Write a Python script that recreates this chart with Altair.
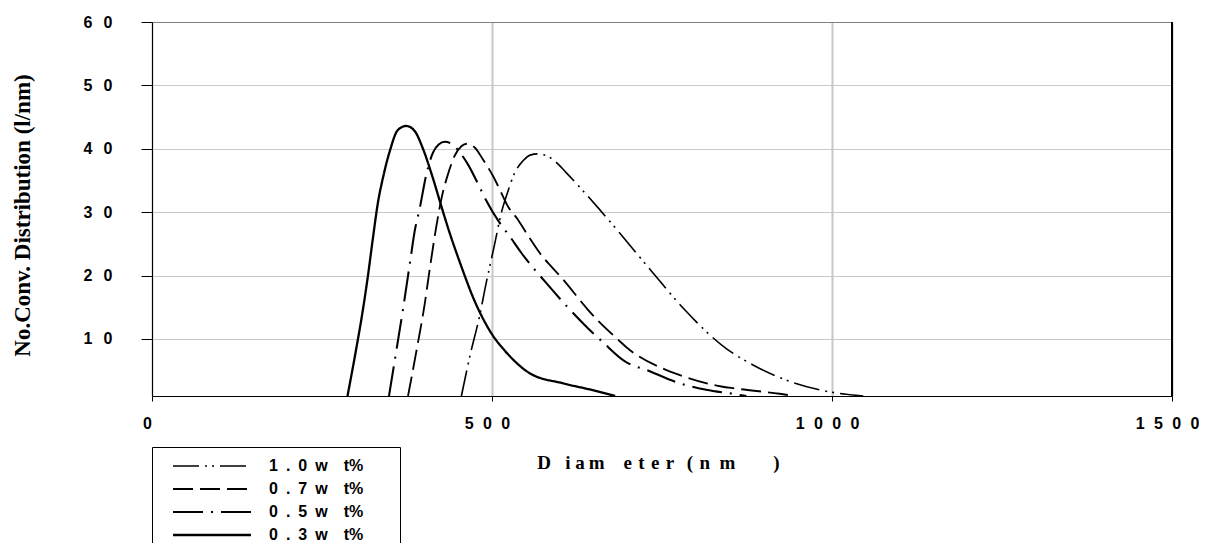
import altair as alt
import pandas as pd

# ---- data ----
series_names = ["1.0 wt%", "0.7 wt%", "0.5 wt%", "0.3 wt%"]
legend_labels = [
    "1\u2002.\u20020\u2002w\u2002\u2002t%",
    "0\u2002.\u20027\u2002w\u2002\u2002t%",
    "0\u2002.\u20025\u2002w\u2002\u2002t%",
    "0\u2002.\u20023\u2002w\u2002\u2002t%",
]

d_10 = [455, 469, 480.5, 491.8, 503, 514, 523.5, 533.4, 545.6, 556, 567.6,
        589.8, 609.4, 629.3, 658.4, 687.8, 736.8, 783.4, 843, 883.8, 937.8, 984.4, 1046]
v_10 = [1.0, 8.0, 13.0, 19.0, 24.5, 30.0, 33.3, 36.2, 38.1, 39.0, 39.2,
        38.3, 36.2, 33.9, 30.4, 26.7, 20.4, 14.6, 8.6, 5.9, 3.3, 1.9, 1.0]

d_07 = [376.5, 388.7, 401, 408.4, 418.2, 426, 435.3, 445.1, 455, 463.2, 474.6, 486.8,
        501.5, 511.3, 523.5, 538.2, 550.6, 570, 604.4, 641.2, 658.4, 685.3, 697.6,
        754, 773.5, 837.4, 857, 923, 945]
v_07 = [1.0, 8.0, 15.5, 21.0, 27.8, 32.3, 36.0, 38.9, 40.4, 40.8, 40.2, 38.3,
        35.7, 33.6, 30.9, 28.8, 26.7, 23.6, 19.4, 14.6, 12.6, 9.9, 8.7,
        5.2, 4.4, 2.5, 2.2, 1.35, 1.0]

d_05 = [348.5, 360, 370, 380, 386.3, 393.7, 403.5, 413.2, 422, 430.4, 445, 455,
        464.8, 482, 490.7, 511.3, 526, 543, 580, 641, 663, 695, 732, 773.5, 815,
        857, 874]
v_05 = [1.0, 8.6, 15.3, 22.5, 27.0, 30.6, 36.0, 39.4, 40.7, 41.1, 40.4, 39.1,
        37.5, 33.9, 32.0, 28.3, 26.2, 23.6, 18.8, 11.7, 9.5, 6.5, 4.9, 3.1, 2.0,
        1.3, 1.0]

d_03 = [287.5, 299.6, 309.4, 317.6, 325, 332.4, 340, 349.6, 361.8, 374, 386.3,
        398.5, 413, 425.6, 437.8, 450, 457.4, 472, 486.8, 501.5, 516, 526, 555.4,
        604.4, 645, 681]
v_03 = [1.0, 8.0, 14.1, 20.0, 26.0, 31.6, 35.6, 39.6, 43.0, 43.6, 42.8,
        40.0, 35.4, 30.9, 26.7, 22.9, 20.7, 16.6, 13.2, 10.5, 8.5, 7.3, 4.6,
        3.0, 2.0, 1.0]

x_ticks = [0, 500, 1000, 1500]
x_tick_labels = ["0", "5 0 0", "1 0 0 0", "1 5 0 0"]
y_ticks = [10, 20, 30, 40, 50, 60]
y_tick_labels = ["1 0", "2 0", "3 0", "4 0", "5 0", "6 0"]

x_title = ("D\u2002\u00a0i\u00a0a\u2009m\u2003e\u2004t\u2004e\u2004r"
           "\u2004\u2004(\u2004n\u2002m\u2003\u2003)")
y_title = "No.Conv. Distribution (l/nm)"

# ---- styles ----
dash_styles = [[26, 6, 2, 5, 2, 6], [20, 7], [30, 8, 2, 8], [1, 0]]
line_widths = [1.6, 2.3, 2.3, 2.5]

rows = []
for lab, xs, ys in zip(legend_labels, [d_10, d_07, d_05, d_03], [v_10, v_07, v_05, v_03]):
    for i, (xv, yv) in enumerate(zip(xs, ys)):
        rows.append({"series": lab, "d": xv, "v": yv, "order": i})
df = pd.DataFrame(rows)


def label_expr(values, labels, sep):
    expr = "''"
    for val, lab in reversed(list(zip(values, labels))):
        expr = f"datum.value == {val} ? '{lab.replace(' ', sep)}' : ({expr})"
    return expr


SEP_X = "\u2002\u200a"
SEP_Y = "\u2002\u2009"

x_axis = alt.Axis(
    values=x_ticks,
    labelExpr=label_expr(x_ticks, x_tick_labels, SEP_X),
    labelFont="Liberation Sans", labelFontWeight="bold", labelFontSize=16,
    labelColor="black", labelPadding=14, labelOffset=-5, labelFlush=False,
    tickSize=5, tickColor="black",
    domainColor="black", grid=True, gridColor="#c8c8c8", gridWidth=2,
    title=x_title, titleFont="Liberation Serif", titleFontSize=19,
    titleFontWeight="bold", titleColor="black", titleX=506, titleY=66,
    titleBaseline="middle", titleAlign="center",
)

y_axis = alt.Axis(
    values=y_ticks,
    labelExpr=label_expr(y_ticks, y_tick_labels, SEP_Y),
    labelFont="Liberation Sans", labelFontWeight="bold", labelFontSize=16,
    labelColor="black", labelPadding=29, tickSize=11, tickColor="black",
    domainColor="black", grid=True,
    gridColor={"condition": {"test": "datum.value == 60", "value": "#808080"}, "value": "#c8c8c8"},
    gridWidth=1,
    title=y_title, titleFont="Liberation Serif", titleFontSize=23,
    titleFontWeight="bold", titleColor="black", titleX=-130, titleY=193,
    titleAngle=270, titleBaseline="middle", titleAlign="center",
)

# the legend title is only a white spacer that widens the legend frame
legend = alt.Legend(
    orient="none", legendX=0, legendY=425,
    title=".", titleOrient="right", titleFontSize=16, titlePadding=24,
    titleColor="white", titleFont="Liberation Sans",
    symbolType="M-4,0H4", symbolSize=380, symbolStrokeWidth=2,
    symbolStrokeColor="black", symbolFillColor="transparent", symbolOffset=41,
    labelFont="Liberation Sans", labelFontWeight="bold", labelFontSize=16,
    labelColor="black", labelOffset=46, labelLimit=400,
    strokeColor="black", fillColor="white", padding=8, rowPadding=4,
)

lines = alt.Chart(df).mark_line(interpolate="monotone", clip=True, color="black").encode(
    x=alt.X("d:Q", scale=alt.Scale(domain=[0, 1500], nice=False, zero=False), axis=x_axis),
    y=alt.Y("v:Q", scale=alt.Scale(domain=[1, 60], nice=False, zero=False), axis=y_axis),
    strokeDash=alt.StrokeDash("series:N", scale=alt.Scale(domain=legend_labels, range=dash_styles), legend=legend),
    strokeWidth=alt.StrokeWidth("series:N", scale=alt.Scale(domain=legend_labels, range=line_widths), legend=None),
    order="order:Q",
)

right_border = alt.Chart(df).mark_rule(color="black", strokeWidth=1).encode(x=alt.datum(1500))

chart = alt.layer(lines, right_border).properties(
    width=1020, height=374,
    autosize=alt.AutoSizeParams(type="none"),
    padding={"left": 144, "top": 14, "right": 27, "bottom": 147},
).configure_view(stroke=None).configure(background="white")

chart.save("out.html", embed_options={"renderer": "svg", "actions": False})
